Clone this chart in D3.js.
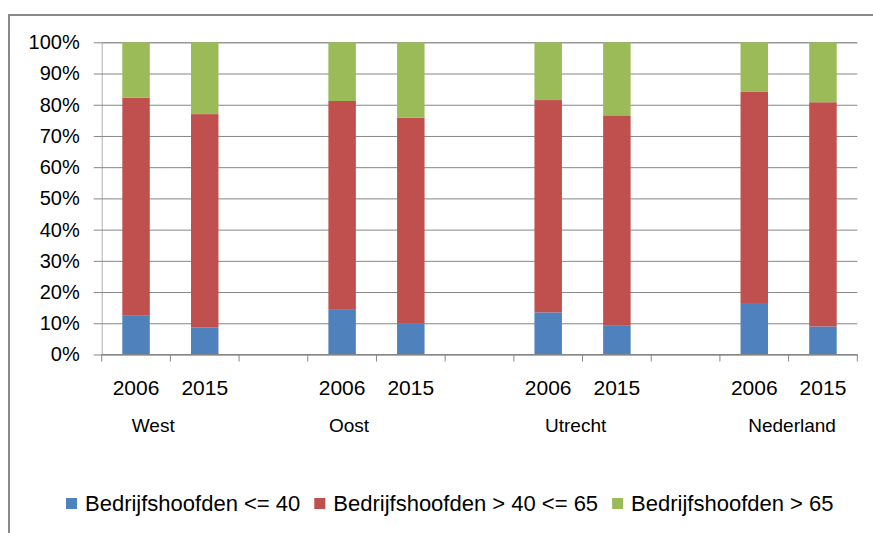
<!DOCTYPE html>
<html>
<head>
<meta charset="utf-8">
<script src="https://cdnjs.cloudflare.com/ajax/libs/d3/7.8.5/d3.min.js"></script>
<style>
  body { margin: 0; background: #fff; }
  text { font-family: "Liberation Sans", Arial, sans-serif; fill: #000; }
</style>
</head>
<body>
<script>
(function() {
  var width = 873;
  var height = 533;

  // data (percentages)
  var regions = ["West", "Oost", "Utrecht", "Nederland"];
  var years = ["2006", "2015"];
  var series = ["Bedrijfshoofden <= 40", "Bedrijfshoofden > 40 <= 65", "Bedrijfshoofden > 65"];
  var colors = ["#4F81BD", "#C0504D", "#9BBB59"];
  var young = [12.4, 8.6, 14.3, 9.9, 13.5, 9.4, 16.2, 9.0];
  var middle = [69.9, 68.4, 66.9, 66.0, 68.0, 67.2, 67.9, 71.8];
  var old = [17.7, 23.0, 18.8, 24.1, 18.5, 23.4, 15.9, 19.2];
  var yTicks = [0, 10, 20, 30, 40, 50, 60, 70, 80, 90, 100];
  // where the region labels sit, in band units (they are not centred in the original)
  var regionLabelPos = [0.75, 3.6, 6.9, 10.05];

  // build the category slots: year bars with an empty slot between regions
  var slots = [];
  var rows = [];
  regions.forEach(function(r, ri) {
    years.forEach(function(y, yi) {
      var i = ri * years.length + yi;
      slots.push(r + "|" + y);
      rows.push({ key: r + "|" + y, year: y, a: young[i], b: middle[i], c: old[i] });
    });
    if (ri < regions.length - 1) slots.push("gap" + ri);
  });

  var svg = d3.select("body")
    .append("svg")
    .attr("width", width)
    .attr("height", height);

  // outer frame (runs off the right and bottom edge)
  svg.append("rect")
    .attr("x", 9)
    .attr("y", 15)
    .attr("width", 900)
    .attr("height", 600)
    .attr("fill", "none")
    .attr("stroke", "#898989")
    .attr("stroke-width", 2);

  var x = d3.scaleBand()
    .domain(slots)
    .range([101.7, 857.3])
    .paddingInner(0.6)
    .paddingOuter(0.3);

  var y = d3.scaleLinear()
    .domain([0, 100])
    .range([354.5, 42.3]);

  // gridlines + y axis
  var yAxis = d3.axisLeft(y)
    .tickValues(yTicks)
    .tickSize(-(857.3 - 101.7))
    .tickPadding(22)
    .tickFormat(function(d) { return d + "%"; });

  var gy = svg.append("g")
    .attr("transform", "translate(101.7,0)")
    .call(yAxis);
  gy.select(".domain").attr("stroke", "#b0b0b0");
  gy.selectAll(".tick line")
    .attr("stroke", "#868686")
    .attr("x1", -8);
  gy.selectAll(".tick text")
    .style("font-size", "20px")
    .style("font-family", "Liberation Sans, Arial, sans-serif");

  // stacked bars
  var stack = d3.stack().keys(["a", "b", "c"]);
  var layers = stack(rows);

  svg.append("g")
    .selectAll("g")
    .data(layers)
    .enter().append("g")
    .attr("fill", function(d, i) { return colors[i]; })
    .selectAll("rect")
    .data(function(d) { return d; })
    .enter().append("rect")
    .attr("x", function(d) { return x(d.data.key); })
    .attr("width", x.bandwidth())
    .attr("y", function(d) { return y(d[1]); })
    .attr("height", function(d) { return y(d[0]) - y(d[1]); });

  // x axis line and tick marks between slots
  var step = x.step();
  var bounds = d3.range(slots.length + 1).map(function(i) { return 101.7 + i * step; });
  svg.append("line")
    .attr("x1", 101.7).attr("x2", 857.3)
    .attr("y1", y(0)).attr("y2", y(0))
    .attr("stroke", "#868686");
  svg.append("g")
    .selectAll("line")
    .data(bounds)
    .enter().append("line")
    .attr("x1", function(d) { return d; })
    .attr("x2", function(d) { return d; })
    .attr("y1", y(0))
    .attr("y2", y(0) + 7)
    .attr("stroke", "#868686");

  // year labels
  svg.append("g")
    .selectAll("text")
    .data(rows)
    .enter().append("text")
    .attr("x", function(d) { return x(d.key) + x.bandwidth() / 2; })
    .attr("y", 395)
    .attr("text-anchor", "middle")
    .style("font-size", "21px")
    .text(function(d) { return d.year; });

  // region labels
  svg.append("g")
    .selectAll("text")
    .data(regions)
    .enter().append("text")
    .attr("x", function(d, i) { return 101.7 + regionLabelPos[i] * step; })
    .attr("y", 432)
    .attr("text-anchor", "middle")
    .style("font-size", "19px")
    .text(function(d) { return d; });

  // legend
  var legend = svg.append("g").attr("transform", "translate(66,0)");
  var lx = 0;
  series.forEach(function(s, i) {
    var item = legend.append("g").attr("transform", "translate(" + lx + ",0)");
    item.append("rect")
      .attr("x", 0).attr("y", 498)
      .attr("width", 11).attr("height", 11)
      .attr("fill", colors[i]);
    var t = item.append("text")
      .attr("x", 19)
      .attr("y", 511)
      .style("font-size", "22px")
      .text(s);
    lx += 19 + t.node().getComputedTextLength() + 14;
  });
})();
</script>
</body>
</html>
